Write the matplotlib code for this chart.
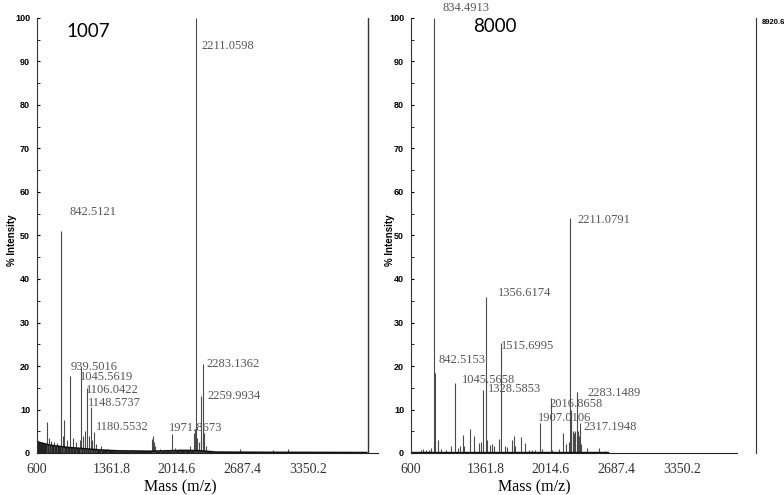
import numpy as np
import matplotlib
matplotlib.use("Agg")
import matplotlib.pyplot as plt

# tick labels on the mass axis
mass_ticks = [600, 1361.8, 2014.6, 2687.4, 3350.2]
int_ticks = [0, 10, 20, 30, 40, 50, 60, 70, 80, 90, 100]

# ---- spectrum 1007 ----
mz_1007 = [705, 725, 745, 775, 800, 842.5121, 860, 876, 900, 939.5016, 966, 1000,
           1033, 1045.5619, 1066, 1090, 1106.0422, 1125, 1148.5737, 1160, 1180.5532,
           1200, 1250, 1320, 1560, 1765, 1775, 1790, 1800, 1850, 1900, 1971.8673,
           2000, 2050, 2100, 2150, 2195, 2200, 2211.0598, 2227, 2240, 2259.9934,
           2270, 2283.1362, 2300, 2320, 2660, 3000, 3150, 3400]
int_1007 = [7.2, 3.5, 2.8, 2.5, 2.2, 51, 4, 7.5, 3, 17.6, 3.5, 2.5,
            3, 19.5, 4, 5, 15, 4, 10.5, 3, 4.8,
            2, 1.5, 1, 0.8, 3.2, 3.8, 2.5, 1.5, 1.0, 0.8, 4.4,
            1.2, 1.0, 0.8, 1.5, 4.5, 5.5, 100, 3.5, 2.5, 13,
            3, 20.5, 4.6, 1.5, 0.9, 0.8, 0.9, 0.3]
base_mz_1007 = [600, 613, 732, 901, 1070, 1240, 1409, 1747, 2102, 2255, 2424, 2932, 3947]
base_1007 = [2.8, 2.5, 1.8, 1.3, 1.0, 0.7, 0.5, 0.4, 0.6, 0.5, 0.2, 0.15, 0.1]
labels_1007 = ["842.5121", "939.5016", "1045.5619", "1106.0422", "1148.5737",
               "1180.5532", "1971.8673", "2211.0598", "2283.1362", "2259.9934"]

# ---- spectrum 8000 ----
mz_8000 = [700, 720, 750, 780, 800, 834.4913, 842.5153, 873, 900, 960, 1002,
           1045.5658, 1080, 1100, 1123, 1140, 1194, 1242, 1290, 1310, 1328.5853,
           1356.6174, 1375, 1400, 1420, 1440, 1498, 1515.6995, 1550, 1570, 1627,
           1643, 1660, 1716, 1761, 1800, 1830, 1860, 1907.0106, 1925, 2016.8658,
           2030, 2100, 2146, 2175, 2200, 2211.0791, 2220, 2228, 2240, 2250, 2260,
           2270, 2283.1489, 2295, 2305, 2317.1948, 2330, 2390, 2508, 2570]
int_8000 = [0.8, 1.0, 0.6, 0.8, 1.2, 100, 18.5, 3, 1, 0.8, 1.5,
            16, 1.2, 1.5, 4.2, 1.5, 5.5, 3.8, 2.2, 2.6, 14.5,
            35.8, 3, 1.8, 2, 1.5, 3.2, 25.3, 1.5, 1.3, 3,
            4, 1.5, 3.6, 2.3, 0.8, 0.6, 0.8, 6.8, 1, 12.6,
            0.8, 1, 4.6, 2, 2.5, 54, 9, 10, 5, 4.5, 5,
            4, 14, 5, 4, 7, 2, 1.2, 1.2, 0.5]
labels_8000 = ["834.4913", "2211.0791", "1356.6174", "1515.6995", "842.5153",
               "1045.5658", "1328.5853", "2283.1489", "2016.8658", "1907.0106",
               "2317.1948"]

# label offsets from peak top (pixels)
offs_1007 = [(9, 19), (0, 9), (-1, -9), (-1, -2), (-3, 4), (2, 5), (-3, 6),
             (6, -28), (4, 0), (7, 0)]
offs_8000 = [(8, 10), (8, -2), (12, 4), (0, -3), (4, 13), (7, 3), (5, 1),
             (11, -1), (-1, -6), (-2, 5), (3, -4)]

S = 0.0985  # px per mass unit
W, H = 784, 495
fig = plt.figure(figsize=(7.84, 4.95), dpi=100)
axL = fig.add_axes([37 / W, 42 / H, 341 / W, 435 / H])
axR = fig.add_axes([411 / W, 42 / H, 345 / W, 435 / H])

serif = "Liberation Serif"


def draw(ax, mz, inten, labels, offs, right_px):
    ax.vlines(mz, 0, inten, color="#4a4a4a", lw=0.8)
    ax.set_xlim(600, 600 + right_px / S)
    ax.set_ylim(0, 100)
    for lab, (dx, dy) in zip(labels, offs):
        i = mz.index(float(lab))
        ax.annotate(lab, (mz[i], inten[i]), xytext=(dx, dy), textcoords="offset pixels",
                    ha="left", va="center", fontsize=9, color="#555555", family=serif)
    ax.set_xticks(mass_ticks)
    ax.set_xticklabels([("%g" % t) for t in mass_ticks],
                       fontsize=10, family=serif, color="#333333")
    ax.tick_params(axis="x", length=0, pad=7)
    ax.set_yticks(int_ticks)
    ax.set_yticks(np.arange(5, 100, 10), minor=True)
    ax.tick_params(axis="y", which="both", direction="in", length=2, labelsize=6.5, pad=5)
    for t in ax.get_yticklabels():
        t.set_fontweight("bold")
        t.set_family("Liberation Sans")
    ax.set_xlabel("Mass (m/z)", fontsize=11.5, family=serif, va="center")
    ax.set_ylabel("% Intensity", fontsize=7, fontweight="bold", family="Liberation Sans",
                  va="center")
    ax.spines["top"].set_visible(False)
    ax.spines["left"].set_color("#333333")
    ax.spines["bottom"].set_color("#222222")


# left panel
draw(axL, mz_1007, int_1007, labels_1007, offs_1007, 341)
axL.fill_between(base_mz_1007, 0, base_1007, color="#222222", lw=0)
axL.plot(base_mz_1007, base_1007, color="#111111", lw=1.2)
axL.spines["right"].set_visible(False)
axL.axvline(600 + 331 / S, ymin=0, ymax=1, color="#333333", lw=1)
axL.xaxis.set_label_coords(0.419, -0.078)
axL.yaxis.set_label_coords(-0.072, 0.49)
axL.text(0.151, 0.968, "1007", transform=axL.transAxes, fontsize=13.5, family="Lato",
         ha="center", va="center")

# right panel
draw(axR, mz_8000, int_8000, labels_8000, offs_8000, 345)
axR.plot([600, 2600], [0.15, 0.15], color="#111111", lw=1.0)
axR.spines["bottom"].set_bounds(600, 600 + 326 / S)
axR.spines["right"].set_color("#333333")
axR.xaxis.set_label_coords(0.357, -0.078)
axR.yaxis.set_label_coords(-0.062, 0.49)
axR.text(0.244, 0.98, "8000", transform=axR.transAxes, fontsize=13.5, family="Lato",
         ha="center", va="center")
axR.annotate("8920.6", (1, 1), xycoords="axes fraction", xytext=(6, -5),
             textcoords="offset pixels", fontsize=5.5, fontweight="bold",
             family="Liberation Sans", ha="left", va="center")

fig.savefig("out.png", dpi=100)
